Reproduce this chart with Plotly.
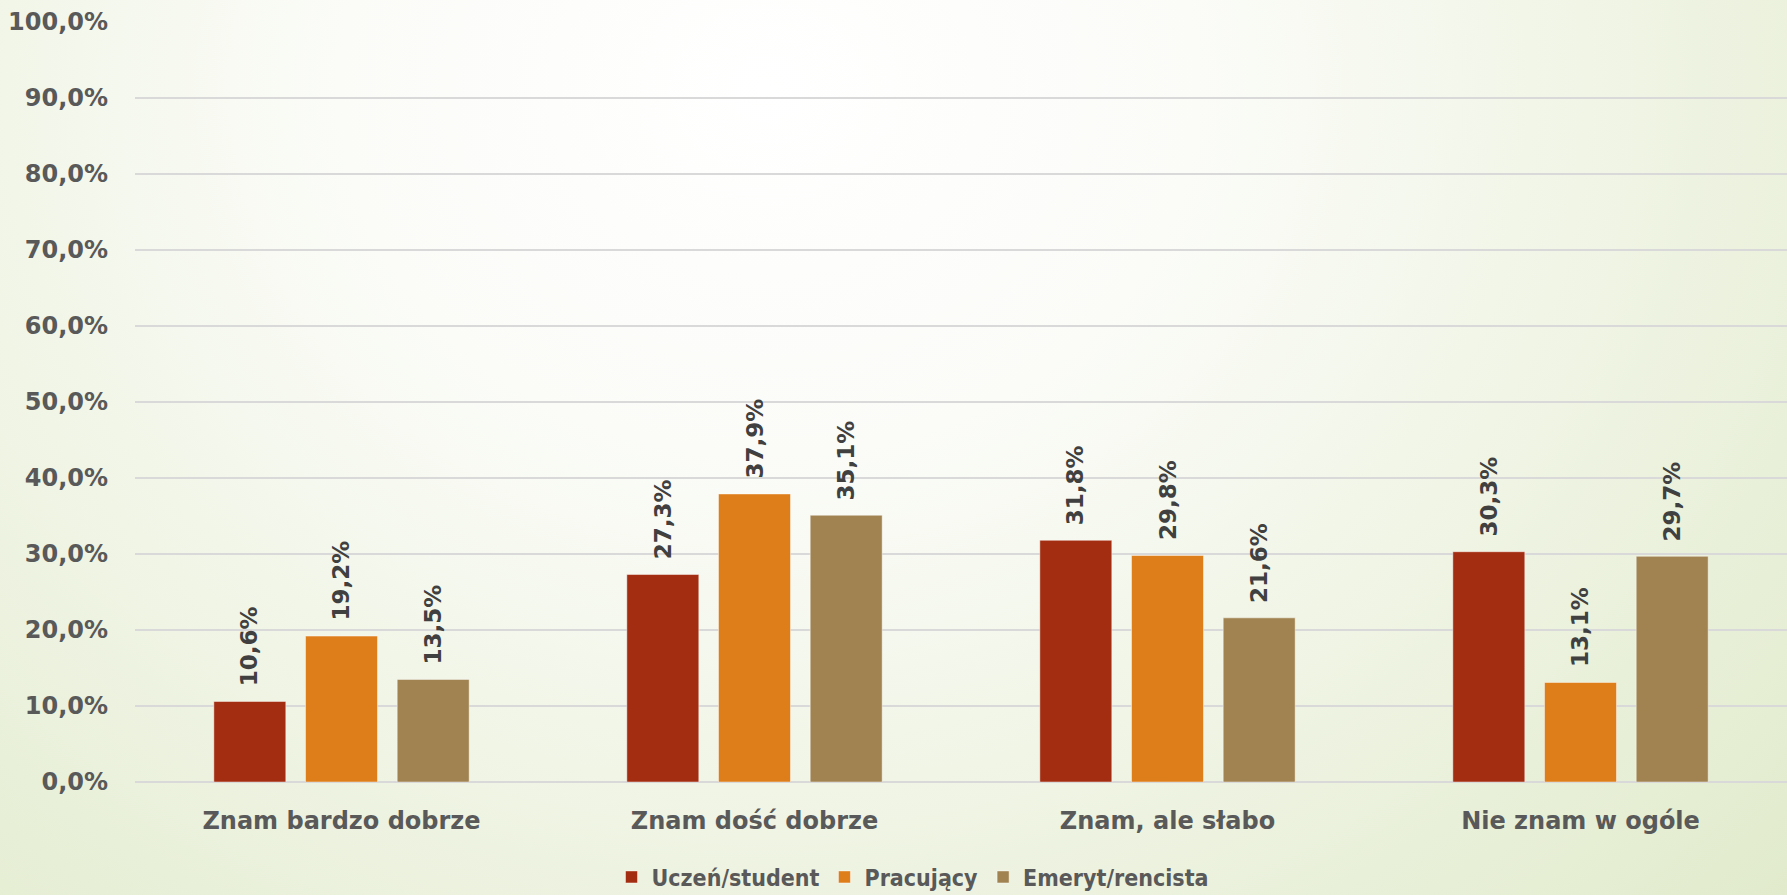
import base64
import plotly.graph_objects as go

categories = ["Znam bardzo dobrze", "Znam dość dobrze", "Znam, ale słabo", "Nie znam w ogóle"]
series_names = ["Uczeń/student", "Pracujący", "Emeryt/rencista"]
uczen = [10.6, 27.3, 31.8, 30.3]
pracujacy = [19.2, 37.9, 29.8, 13.1]
emeryt = [13.5, 35.1, 21.6, 29.7]
colors = ["#A32D10", "#DD7E1A", "#A08350"]
tick_vals = [0, 10, 20, 30, 40, 50, 60, 70, 80, 90, 100]

W, H = 1787, 895
ML, MR, MT, MB = 135, 0, 22, 113
PW, PH = W - ML - MR, H - MT - MB

FONT = "'DejaVu Sans', Lato, sans-serif"
LEG_FONT = "'DejaVu Sans Condensed', Roboto, sans-serif"
LABEL_COLOR = "#404040"
AXIS_COLOR = "#595959"

svg = f'''<svg xmlns="http://www.w3.org/2000/svg" width="{W}" height="{H}" viewBox="0 0 {W} {H}" preserveAspectRatio="none">
<defs><radialGradient id="g" cx="0.43" cy="0.1" r="0.8" gradientUnits="objectBoundingBox" gradientTransform="translate(0.43,0.1) scale(1,1.7) translate(-0.43,-0.1)">
<stop offset="0" stop-color="#FFFFFF"/><stop offset="0.3" stop-color="#FBFCF8"/><stop offset="1" stop-color="#E0EACA"/></radialGradient></defs>
<rect width="{W}" height="{H}" fill="url(#g)"/></svg>'''
bg_src = "data:image/svg+xml;base64," + base64.b64encode(svg.encode()).decode()

fig = go.Figure()
all_series = [uczen, pracujacy, emeryt]
for name, vals, col in zip(series_names, all_series, colors):
    fig.add_trace(go.Bar(
        x=categories, y=vals, name=name,
        marker=dict(color=col, line=dict(color="rgba(255,255,255,0.45)", width=1)),
        hoverinfo="skip",
    ))

bargap = 0.334
bargroupgap = 0.215
slot = PW / len(categories) * (1 - bargap) / 3
annotations = []
for i, vals in enumerate(all_series):
    offset = (i - 1) * slot
    for cat, v in zip(categories, vals):
        annotations.append(dict(
            x=cat, y=v, xref="x", yref="y",
            text=f"{v:.1f}%".replace(".", ","),
            textangle=-90, showarrow=False,
            xanchor="center", yanchor="bottom",
            xshift=offset, yshift=13,
            font=dict(family=FONT, size=23, color=LABEL_COLOR, weight="bold"),
        ))

fig.update_layout(
    width=W, height=H,
    margin=dict(l=ML, r=MR, t=MT, b=MB, pad=0, autoexpand=False),
    paper_bgcolor="#FFFFFF",
    plot_bgcolor="rgba(0,0,0,0)",
    barmode="group", bargap=bargap, bargroupgap=bargroupgap,
    separators=", ",
    showlegend=True,
    legend=dict(
        orientation="h", x=(913 - ML) / PW, xanchor="center",
        y=(782 - 877) / PH, yanchor="middle",
        font=dict(family=LEG_FONT, size=23, color=AXIS_COLOR, weight="bold"),
        itemwidth=30, tracegroupgap=0, bgcolor="rgba(0,0,0,0)",
    ),
    xaxis=dict(
        showgrid=False, showline=False, ticks="", automargin=False,
        tickfont=dict(family=FONT, size=24, color=AXIS_COLOR, weight="bold"),
        ticklabelstandoff=22,
    ),
    yaxis=dict(
        range=[0, 100], tickvals=tick_vals, automargin=False,
        ticktext=[f"{t:.1f}%".replace(".", ",") for t in tick_vals],
        showgrid=True, gridcolor="#D9D9D9", gridwidth=2,
        zeroline=True, zerolinecolor="#D9D9D9", zerolinewidth=2,
        showline=False, ticks="",
        tickfont=dict(family=FONT, size=24, color=AXIS_COLOR, weight="bold"),
        ticklabelstandoff=26,
    ),
    annotations=annotations,
    images=[dict(
        source=bg_src, xref="paper", yref="paper",
        x=-ML / PW, y=1 + MT / PH, sizex=W / PW, sizey=H / PH,
        xanchor="left", yanchor="top", sizing="stretch", layer="below",
    )],
)

fig.write_html(
    "out.html",
    config={"displayModeBar": False},
    post_script="document.body.style.margin='0px';document.body.style.overflow='hidden';",
)
